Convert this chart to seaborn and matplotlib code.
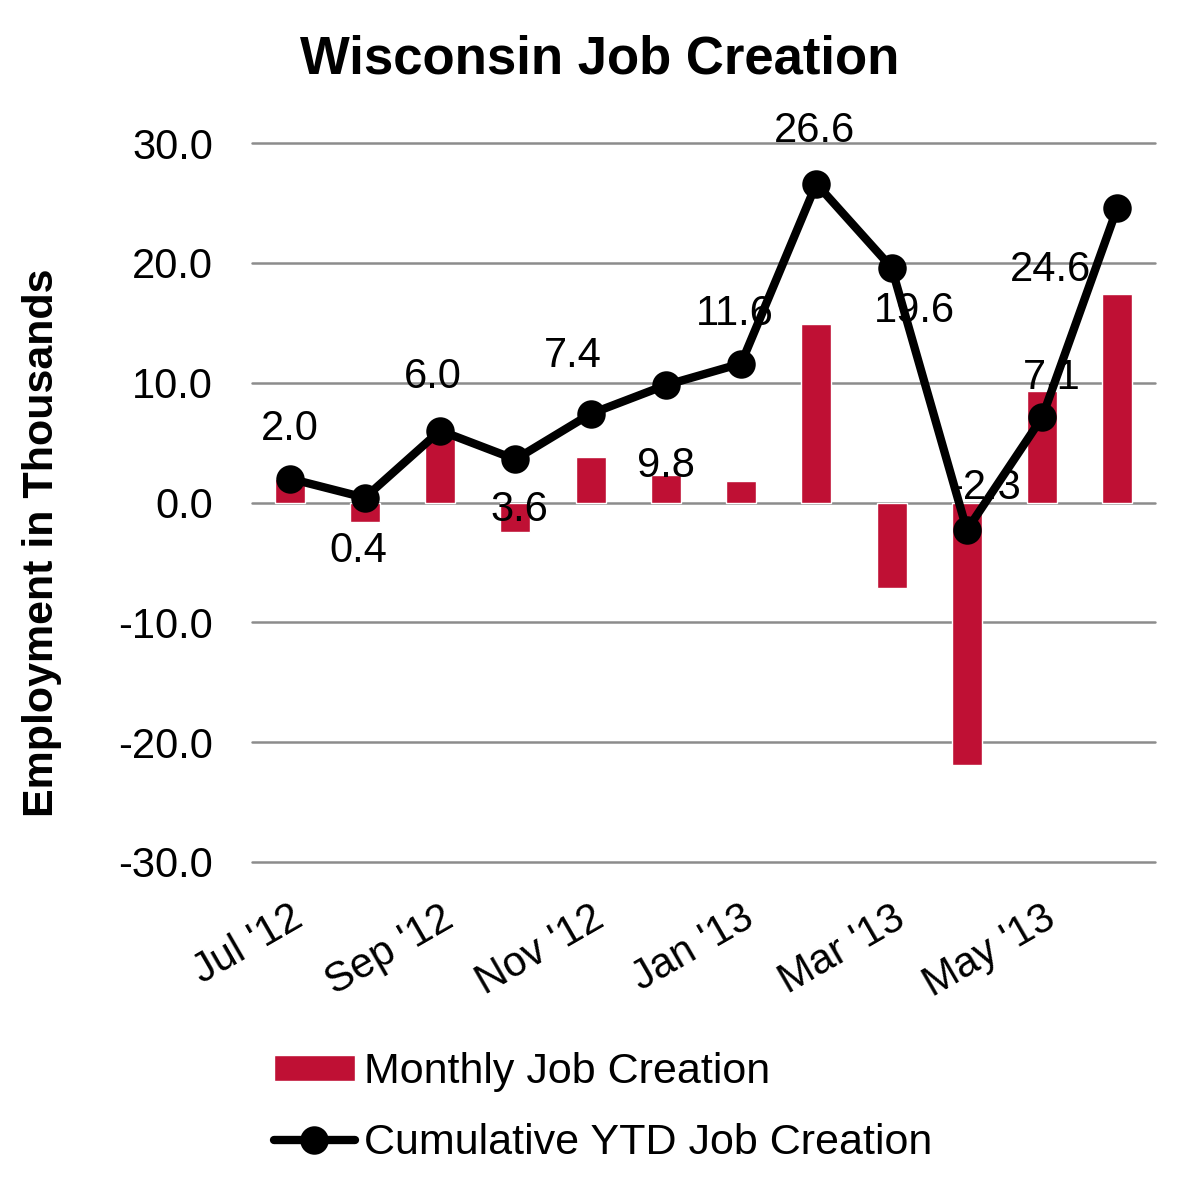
import numpy as np
import pandas as pd
import seaborn as sns
import matplotlib.pyplot as plt
import matplotlib.transforms as mtransforms

months = ["Jul '12", "Aug '12", "Sep '12", "Oct '12", "Nov '12", "Dec '12",
          "Jan '13", "Feb '13", "Mar '13", "Apr '13", "May '13", "Jun '13"]
monthly = [2.0, -1.6, 5.5, -2.5, 3.8, 2.3, 1.8, 14.9, -7.1, -21.9, 9.3, 17.4]
cumulative = [2.0, 0.4, 6.0, 3.6, 7.4, 9.8, 11.6, 26.6, 19.6, -2.3, 7.1, 24.6]

# where each cumulative label sits relative to its point (pixels)
label_dx = [0, -7, -7, 4, -18, 0, -6, -2, 23, 18, 10, -67]
label_dy = [50, -53, 54, -51, 58, -81, 50, 53, -43, 42, 39, -62]

df = pd.DataFrame({'month': months, 'monthly': monthly, 'cumulative': cumulative})

sns.set_style('white')
plt.rcParams['font.family'] = ['Liberation Sans', 'DejaVu Sans']
plt.rcParams['axes.unicode_minus'] = False
plt.rcParams['text.color'] = 'black'
plt.rcParams['xtick.color'] = 'black'
plt.rcParams['ytick.color'] = 'black'
plt.rcParams['axes.labelcolor'] = 'black'

fig = plt.figure(figsize=(12, 12), dpi=100)
ax = fig.add_axes([0.21, 0.2817, 0.7525, 0.5991])

sns.barplot(data=df, x='month', y='monthly', color='#BF1034', saturation=1,
            width=0.4, errorbar=None, label='Monthly Job Creation', ax=ax, zorder=2)
sns.pointplot(data=df, x='month', y='cumulative', color='black', markers='o',
              errorbar=None, markersize=16, linewidth=6,
              label='Cumulative YTD Job Creation', ax=ax, zorder=4)

for i, v in enumerate(cumulative):
    ax.annotate(f'{v:.1f}', xy=(i, v), xytext=(label_dx[i], label_dy[i]),
                textcoords='offset pixels', ha='center', va='center',
                fontsize=30, color='black', zorder=3)

ax.set_xlim(-0.5, 11.5)
ax.set_ylim(-30, 30)
ax.set_yticks(range(-30, 31, 10))
ax.set_yticklabels([f'{t:.1f}' for t in range(-30, 31, 10)])
ax.set_xticks(range(0, 12, 2))
ax.set_xticklabels(months[::2], rotation=30, ha='right', va='top',
                   rotation_mode='anchor')
shift = mtransforms.ScaledTranslation(-8 / 100, 0, fig.dpi_scale_trans)
for lab in ax.get_xticklabels():
    lab.set_transform(lab.get_transform() + shift)
ax.tick_params(axis='both', length=0, labelsize=30, labelcolor='black')
ax.tick_params(axis='y', pad=28)
ax.tick_params(axis='x', pad=26)
ax.set_xlabel('')
ax.set_ylabel('')

ax.set_axisbelow(True)
ax.grid(axis='y', color='#8c8c8c', linewidth=1.8)
ax.grid(axis='x', visible=False)
for gl in ax.yaxis.get_gridlines():
    gl.set_clip_on(False)
sns.despine(ax=ax, left=True, bottom=True)

if ax.get_legend() is not None:
    ax.get_legend().remove()
handles, labels = ax.get_legend_handles_labels()
order = [labels.index('Monthly Job Creation'), labels.index('Cumulative YTD Job Creation')]
fig.legend([handles[k] for k in order], [labels[k] for k in order],
           loc='upper left', bbox_to_anchor=(252 / 1200, 0.141),
           frameon=False, fontsize=31, handlelength=1.9, handleheight=0.55,
           handletextpad=0.2, labelspacing=0.72, borderpad=0)

fig.text(0.5, 0.971, 'Wisconsin Job Creation', ha='center', va='top',
         fontsize=38, fontweight='bold')
fig.text(0.035, 0.548, 'Employment in Thousands', rotation=90, ha='center',
         va='center', fontsize=31, fontweight='bold')

fig.savefig('out.png', dpi=100)
